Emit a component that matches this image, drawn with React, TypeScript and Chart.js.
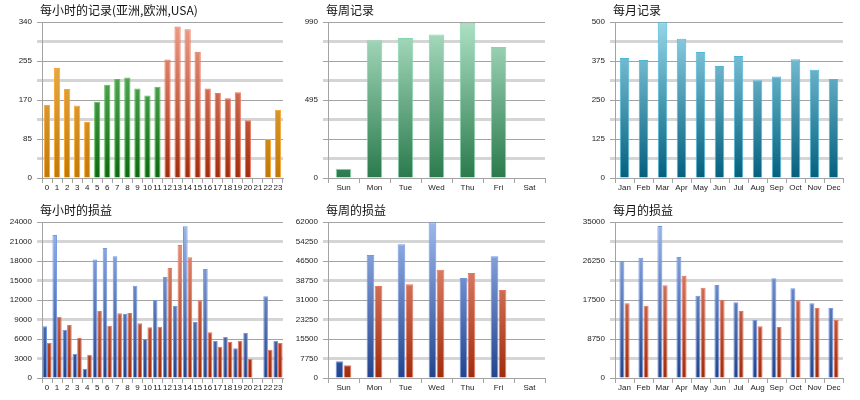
import React, { useEffect, useRef } from 'react';
import { Chart, registerables } from 'chart.js';

Chart.register(...registerables);

// categories
const hours = ['0', '1', '2', '3', '4', '5', '6', '7', '8', '9', '10', '11', '12', '13', '14', '15', '16', '17', '18', '19', '20', '21', '22', '23'];
const weekdays = ['Sun', 'Mon', 'Tue', 'Wed', 'Thu', 'Fri', 'Sat'];
const months = ['Jan', 'Feb', 'Mar', 'Apr', 'May', 'Jun', 'Jul', 'Aug', 'Sep', 'Oct', 'Nov', 'Dec'];

// trading session of each hour (colour of the hourly bars)
const hourSessions = [
  'asia', 'asia', 'asia', 'asia', 'asia',
  'eu', 'eu', 'eu', 'eu', 'eu', 'eu', 'eu',
  'usa', 'usa', 'usa', 'usa', 'usa', 'usa', 'usa', 'usa', 'usa',
  'asia', 'asia', 'asia',
];

// records
const hourRecords = [159, 240, 194, 158, 122, 166, 203, 216, 219, 195, 180, 199, 258, 330, 324, 275, 195, 185, 174, 187, 126, 0, 85, 148];
const weekRecords = [59, 874, 888, 910, 986, 831, 0];
const monthRecords = [385, 378, 499, 446, 404, 359, 391, 313, 325, 381, 347, 317];

// profit / loss
const hourProfit = [7950, 22000, 7380, 3690, 1440, 18250, 20000, 18720, 9850, 14200, 6000, 12000, 15540, 11080, 23330, 8620, 16770, 5690, 6310, 4560, 6920, 0, 12560, 5690];
const hourLoss = [5390, 9440, 8150, 6150, 3590, 10310, 8050, 9950, 10000, 8410, 7800, 7900, 16920, 20460, 18560, 11950, 7030, 4820, 5540, 5740, 2920, 0, 4360, 5390];
const weekProfit = [6620, 48880, 53120, 61870, 39740, 48350, 0];
const weekLoss = [5030, 36560, 37230, 43060, 41730, 34980, 0];
const monthProfit = [26250, 27000, 34100, 27150, 18470, 20870, 16980, 13090, 22360, 20120, 16750, 15700];
const monthLoss = [16750, 16230, 20790, 22960, 20270, 17580, 15030, 11590, 11440, 17430, 15700, 13010];

// y axis: [max, labelled step]
const hourRecordAxis = [340, 85];
const weekRecordAxis = [990, 495];
const monthRecordAxis = [500, 125];
const hourPnlAxis = [24000, 3000];
const weekPnlAxis = [62000, 7750];
const monthPnlAxis = [35000, 8750];

type Palette = { top: string; bottom: string; border: string };

const ORANGE: Palette = { top: '#f3bb5e', bottom: '#c27806', border: '#f5a93a' };
const GREEN: Palette = { top: '#72c272', bottom: '#0d6a10', border: '#5cb85c' };
const RED: Palette = { top: '#ee9d88', bottom: '#a12c0c', border: '#e8765f' };
const BLUE: Palette = { top: '#9db8ee', bottom: '#22448d', border: '#7298e0' };
const SEA: Palette = { top: '#aee0c5', bottom: '#2a7a4c', border: '#86d5ad' };
const TEAL: Palette = { top: '#95d5e8', bottom: '#04607e', border: '#4db7d9' };

const sessionColors: Record<string, Palette> = { asia: ORANGE, eu: GREEN, usa: RED };

const DARK = '#a3a3a3';
const LIGHT = '#d5d5d5';
const TICK_FONT = { family: '"Liberation Sans", Arial, sans-serif', size: 8 };

function gradient(ctx: any, p: Palette) {
  const area = ctx.chart.chartArea;
  if (!area) return p.bottom;
  const g = ctx.chart.ctx.createLinearGradient(0, area.top, 0, area.bottom);
  g.addColorStop(0, p.top);
  g.addColorStop(1, p.bottom);
  return g;
}

type Series = { data: number[]; palette: (i: number) => Palette };

type PanelProps = {
  title: string;
  left: number;
  top: number;
  width: number;
  yWidth: number;
  padRight: number;
  labels: string[];
  series: Series[];
  axis: number[];
  barPct: number;
  catPct: number;
};

const Panel: React.FC<PanelProps> = (p) => {
  const canvasRef = useRef<HTMLCanvasElement>(null);

  useEffect(() => {
    if (!canvasRef.current) return;
    const [max, step] = p.axis;
    const chart = new Chart(canvasRef.current, {
      type: 'bar',
      data: {
        labels: p.labels,
        datasets: p.series.map((s) => ({
          data: s.data,
          backgroundColor: (c: any) => gradient(c, s.palette(c.dataIndex)),
          borderColor: (c: any) => s.palette(c.dataIndex).border,
          borderWidth: 1,
          barPercentage: p.barPct,
          categoryPercentage: p.catPct,
        })),
      },
      options: {
        responsive: false,
        animation: false,
        layout: { padding: { top: 22, right: p.padRight, left: 0, bottom: 0 } },
        plugins: { legend: { display: false }, tooltip: { enabled: false } },
        scales: {
          x: {
            offset: true,
            grid: { offset: true, drawOnChartArea: false, drawTicks: true, tickLength: 5, color: DARK },
            border: { color: DARK, width: 1 },
            ticks: { autoSkip: false, maxRotation: 0, padding: 0, color: '#222', font: TICK_FONT },
            afterFit: (s: any) => { s.height = 22; },
          },
          y: {
            min: 0,
            max,
            afterBuildTicks: (s: any) => {
              s.ticks = [0, 1, 2, 3, 4, 5, 6, 7, 8].map((i) => ({ value: (max * i) / 8 }));
            },
            afterFit: (s: any) => { s.width = p.yWidth; },
            ticks: {
              autoSkip: false,
              padding: 5,
              color: '#222',
              font: TICK_FONT,
              callback: (v: any) => {
                const k = Number(v) / step;
                return Math.abs(k - Math.round(k)) < 1e-6 ? String(v) : '';
              },
            },
            grid: {
              color: (c: any) => (c.index % 2 ? LIGHT : DARK),
              tickColor: (c: any) => (c.index % 2 ? LIGHT : DARK),
              lineWidth: (c: any) => (c.index % 2 ? 3 : 1),
              tickLength: 5,
            },
            border: { color: DARK, width: 1 },
          },
        },
      },
    });
    return () => chart.destroy();
  }, []);

  const h = 200;
  return (
    <>
      <canvas
        ref={canvasRef}
        width={p.width}
        height={h}
        style={{ position: 'absolute', left: p.left, top: p.top, width: p.width, height: h }}
      />
      <div
        style={{
          position: 'absolute',
          left: p.left + p.yWidth - 2,
          top: p.top,
          lineHeight: '20px',
          fontSize: 12,
          color: '#111',
          fontFamily: '"Noto Sans CJK SC", "Noto Sans", sans-serif',
          whiteSpace: 'nowrap',
        }}
      >
        {p.title}
      </div>
    </>
  );
};

const one = (pal: Palette) => () => pal;

const App: React.FC = () => (
  <div style={{ position: 'fixed', left: 0, top: 0, width: 860, height: 400, background: '#fff', overflow: 'hidden' }}>
    <Panel
      title="每小时的记录(亚洲,欧洲,USA)"
      left={0} top={0} width={290} yWidth={42} padRight={7}
      labels={hours}
      series={[{ data: hourRecords, palette: (i) => sessionColors[hourSessions[i]] }]}
      axis={hourRecordAxis} barPct={0.62} catPct={1}
    />
    <Panel
      title="每周记录"
      left={290} top={0} width={280} yWidth={38} padRight={25}
      labels={weekdays}
      series={[{ data: weekRecords, palette: one(SEA) }]}
      axis={weekRecordAxis} barPct={0.5} catPct={1}
    />
    <Panel
      title="每月记录"
      left={570} top={0} width={290} yWidth={45} padRight={17}
      labels={months}
      series={[{ data: monthRecords, palette: one(TEAL) }]}
      axis={monthRecordAxis} barPct={0.5} catPct={1}
    />
    <Panel
      title="每小时的损益"
      left={0} top={200} width={290} yWidth={42} padRight={7}
      labels={hours}
      series={[
        { data: hourProfit, palette: one(BLUE) },
        { data: hourLoss, palette: one(RED) },
      ]}
      axis={hourPnlAxis} barPct={1} catPct={0.92}
    />
    <Panel
      title="每周的损益"
      left={290} top={200} width={280} yWidth={38} padRight={25}
      labels={weekdays}
      series={[
        { data: weekProfit, palette: one(BLUE) },
        { data: weekLoss, palette: one(RED) },
      ]}
      axis={weekPnlAxis} barPct={0.95} catPct={0.52}
    />
    <Panel
      title="每月的损益"
      left={570} top={200} width={290} yWidth={45} padRight={17}
      labels={months}
      series={[
        { data: monthProfit, palette: one(BLUE) },
        { data: monthLoss, palette: one(RED) },
      ]}
      axis={monthPnlAxis} barPct={0.95} catPct={0.55}
    />
  </div>
);

export default App;
